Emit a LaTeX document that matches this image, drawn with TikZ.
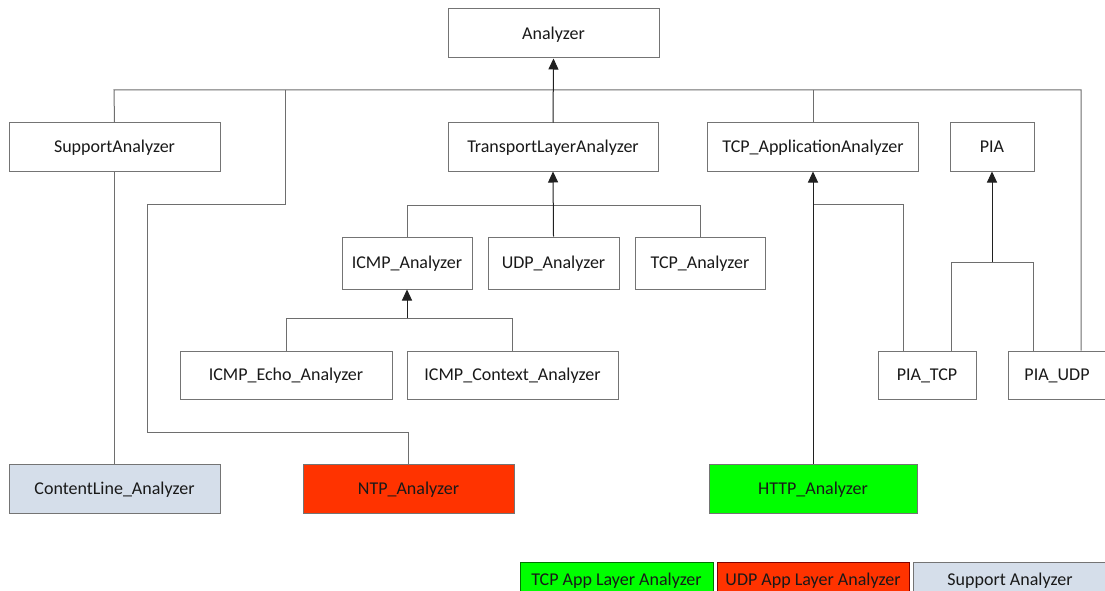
\documentclass[tikz,border=0pt]{standalone}
\usepackage{fontspec}
\setmainfont{Carlito}
\usetikzlibrary{arrows.meta}

\definecolor{tcpapp}{HTML}{00FF00}
\definecolor{udpapp}{HTML}{FF3300}
\definecolor{support}{HTML}{D5DEEA}
\definecolor{boxline}{HTML}{747474}
\definecolor{linkline}{HTML}{6E6E6E}
\definecolor{arrowline}{HTML}{202020}

\tikzset{
  box/.style={draw=boxline, line width=1pt, inner sep=0pt, anchor=center,
              text=black!90, font=\fontsize{18}{20}\selectfont,
              text height=11.6pt, text depth=0pt},
  conn/.style={draw=linkline, line width=1pt},
  inherit/.style={draw=arrowline, line width=1pt,
                  -{Triangle[length=11pt,width=10pt]}},
}

\begin{document}
\begin{tikzpicture}[x=1pt,y=-1pt]
\useasboundingbox[fill=white] (0,0) rectangle (1105,591);

% top level
\node[box, minimum width=211pt, minimum height=49pt] (an)  at (553.5,33.5) {Analyzer};

% second level
\node[box, minimum width=211pt, minimum height=48pt] (sup)    at (114.5,147) {SupportAnalyzer};
\node[box, minimum width=210pt, minimum height=48pt] (tla)    at (553,147)   {TransportLayerAnalyzer};
\node[box, minimum width=211pt, minimum height=48pt] (tcpapp) at (813,147)   {TCP\_ApplicationAnalyzer};
\node[box, minimum width=84pt,  minimum height=48pt] (pia)    at (992,147)   {PIA};

% transport analyzers
\node[box, minimum width=130pt, minimum height=52pt] (icmp) at (407,263)   {ICMP\_Analyzer};
\node[box, minimum width=131pt, minimum height=52pt] (udp)  at (553.5,263) {UDP\_Analyzer};
\node[box, minimum width=130pt, minimum height=52pt] (tcpa) at (700,263)   {TCP\_Analyzer};

% ICMP analyzers and PIA variants
\node[box, minimum width=212pt, minimum height=48pt] (echo) at (286,375)   {ICMP\_Echo\_Analyzer};
\node[box, minimum width=211pt, minimum height=48pt] (ctx)  at (512.5,375) {ICMP\_Context\_Analyzer};
\node[box, minimum width=98pt,  minimum height=48pt] (piat) at (927,375)   {PIA\_TCP};
\node[box, minimum width=98pt,  minimum height=48pt] (piau) at (1057,375)  {PIA\_UDP};

% application layer analyzers
\node[box, fill=support, minimum width=211pt, minimum height=49pt] (cl)   at (114.5,488.5) {ContentLine\_Analyzer};
\node[box, fill=udpapp,  minimum width=211pt, minimum height=49pt] (ntp)  at (408.5,488.5) {NTP\_Analyzer};
\node[box, fill=tcpapp,  minimum width=208pt, minimum height=49pt] (http) at (813,488.5)   {HTTP\_Analyzer};

% legend
\node[box, fill=tcpapp, draw=green!45!black, minimum width=193pt, minimum height=36pt] (lgtcp) at (616.5,580) {TCP App Layer Analyzer};
\node[box, fill=udpapp, draw=red!50!black,   minimum width=192pt, minimum height=36pt] (lgudp) at (813,580)   {UDP App Layer Analyzer};
\node[box, fill=support, minimum width=194pt, minimum height=36pt] (lgsup) at (1010,580) {Support Analyzer};

% bus coordinates
\coordinate (busL)  at (114,90);
\coordinate (busR)  at (1081,90);
\coordinate (ntpA)  at (285,90);
\coordinate (ntpB)  at (285,204);
\coordinate (ntpC)  at (147,204);
\coordinate (ntpD)  at (147,432);
\coordinate (tlaL)  at (407,205);
\coordinate (tlaR)  at (700,205);
\coordinate (icmpL) at (286,318);
\coordinate (icmpM) at (407,318);
\coordinate (icmpR) at (512.5,318);
\coordinate (piaL)  at (951,262);
\coordinate (piaM)  at (992,262);
\coordinate (piaR)  at (1033,262);
\coordinate (appM)  at (813,204);
\coordinate (appR)  at (903,204);

% children of Analyzer
\draw[conn] (sup.north) -- (busL) -- (busR) -- (piau.north -| busR);
\draw[conn] (tcpapp.north) -- (tcpapp.north |- busL);
\draw[conn] (ntpA) -- (ntpB) -- (ntpC) -- (ntpD) -| (ntp.north);
\draw[inherit] (tla.north) -- (an.south);

% children of SupportAnalyzer
\draw[conn] (cl.north) -- (sup.south);

% children of TransportLayerAnalyzer
\draw[conn] (icmp.north) -- (tlaL) -- (tlaR) -- (tcpa.north);
\draw[inherit] (udp.north) -- (tla.south);

% children of ICMP_Analyzer
\draw[conn] (echo.north) -- (icmpL) -- (icmpR) -- (ctx.north);
\draw[inherit] (icmpM) -- (icmp.south);

% children of PIA
\draw[conn] (piat.north -| piaL) -- (piaL) -- (piaR) -- (piau.north -| piaR);
\draw[inherit] (piaM) -- (pia.south);

% children of TCP_ApplicationAnalyzer
\draw[conn] (appM) -- (appR) -- (piat.north -| appR);
\draw[inherit] (http.north) -- (tcpapp.south);
\end{tikzpicture}
\end{document}
